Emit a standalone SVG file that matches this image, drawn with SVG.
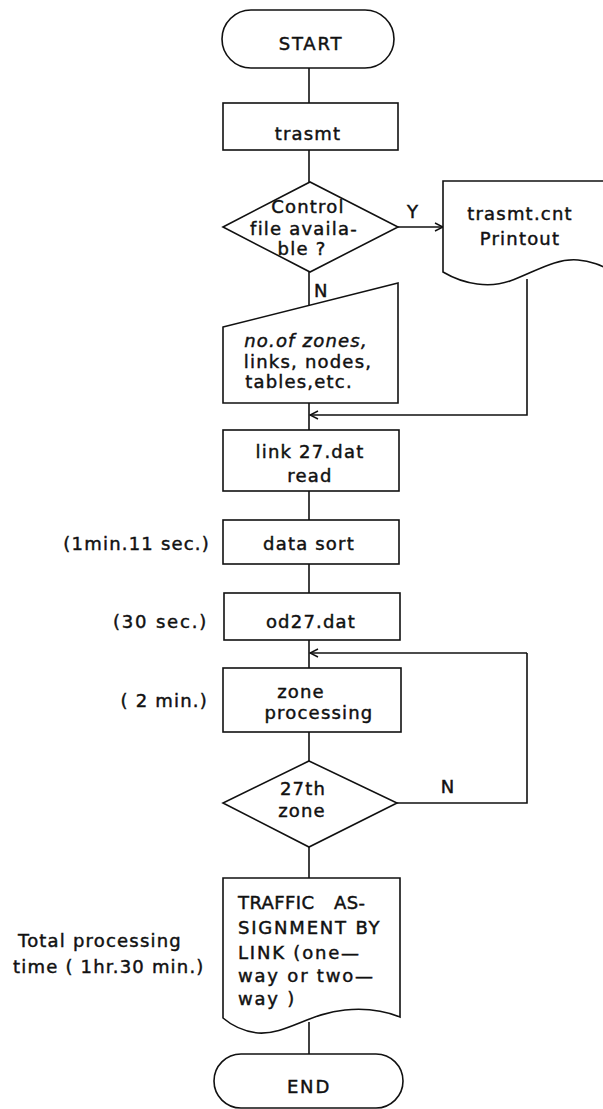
<svg xmlns="http://www.w3.org/2000/svg" width="603" height="1109" viewBox="0 0 603 1109">
  <style>
    .shape { fill: #ffffff; stroke: #111111; stroke-width: 1.6; }
    .line { fill: none; stroke: #111111; stroke-width: 1.6; }
    text { font-family: "DejaVu Sans", "Liberation Sans", sans-serif; font-size: 18px; fill: #111111; stroke: #111111; stroke-width: 0.45; letter-spacing: 1.2px; }
    .c { text-anchor: middle; }
    .r { text-anchor: end; }
    .it { font-style: italic; }
    .wide { letter-spacing: 1.8px; }
    .tight { letter-spacing: 0.4px; }
  </style>
  <defs>
    <marker id="arrow" markerWidth="10" markerHeight="10" refX="9" refY="5" orient="auto" markerUnits="userSpaceOnUse">
      <path d="M1,1 L9,5 L1,9" fill="none" stroke="#111111" stroke-width="1.4"/>
    </marker>
  </defs>
  <rect width="603" height="1109" fill="#ffffff"/>

  <!-- connectors -->
  <g id="connectors">
    <path class="line" d="M309,68 V103"/>
    <path class="line" d="M309,150 V182"/>
    <path class="line" d="M309,272 V305"/>
    <path class="line" d="M398,227 H443" marker-end="url(#arrow)"/>
    <path class="line" d="M309,403 V430"/>
    <path class="line" d="M527,279 V415 H310" marker-end="url(#arrow)"/>
    <path class="line" d="M309,491 V520"/>
    <path class="line" d="M309,564 V593"/>
    <path class="line" d="M309,640 V668"/>
    <path class="line" d="M527,653 H310" marker-end="url(#arrow)"/>
    <path class="line" d="M309,732 V761"/>
    <path class="line" d="M397,803 H527 V653"/>
    <path class="line" d="M309,847 V878"/>
    <path class="line" d="M309,1022 V1054"/>
    <text x="413" y="218" class="c">Y</text>
    <text x="314" y="297">N</text>
    <text x="448" y="793" class="c">N</text>
  </g>

  <!-- terminal: start -->
  <g id="start">
    <rect class="shape" x="222" y="10" width="172" height="58" rx="29"/>
    <text x="311" y="50" class="c wide">START</text>
  </g>

  <!-- process: trasmt -->
  <g id="trasmt">
    <rect class="shape" x="223" y="103" width="175" height="47"/>
    <text x="308" y="140" class="c">trasmt</text>
  </g>

  <!-- decision: control file -->
  <g id="control-file">
    <polygon class="shape" points="223,227 310,182 398,227 310,272"/>
    <text x="308" y="213" class="c">Control</text>
    <text x="304" y="235" class="c">file availa-</text>
    <text x="302" y="255" class="c">ble ?</text>
  </g>

  <!-- document: printout (runs off the right edge) -->
  <g id="printout">
    <path class="shape" d="M625,181 H443 V272 C465,285 490,288 510,281 C535,272 555,258 578,260 C592,261 602,266 625,276"/>
    <text x="520" y="220" class="c">trasmt.cnt</text>
    <text x="520" y="245" class="c">Printout</text>
  </g>

  <!-- manual input: counts -->
  <g id="manual-input">
    <polygon class="shape" points="223,327 398,283 398,403 223,403"/>
    <text x="306" y="347" class="c it">no.of zones,</text>
    <text x="308" y="368" class="c">links, nodes,</text>
    <text x="299" y="388" class="c">tables,etc.</text>
  </g>

  <!-- process: link read -->
  <g id="link-read">
    <rect class="shape" x="223" y="430" width="176" height="61"/>
    <text x="310" y="458" class="c">link 27.dat</text>
    <text x="310" y="482" class="c">read</text>
  </g>

  <!-- process: data sort -->
  <g id="data-sort">
    <rect class="shape" x="223" y="520" width="176" height="44"/>
    <text x="309" y="550" class="c">data sort</text>
    <text x="210" y="550" class="r">(1min.11 sec.)</text>
  </g>

  <!-- process: od27.dat -->
  <g id="od27">
    <rect class="shape" x="224" y="593" width="176" height="47"/>
    <text x="311" y="628" class="c">od27.dat</text>
    <text x="208" y="628" class="r wide">(30 sec.)</text>
  </g>

  <!-- process: zone processing -->
  <g id="zone-processing">
    <rect class="shape" x="223" y="668" width="178" height="64"/>
    <text x="301" y="698" class="c">zone</text>
    <text x="319" y="719" class="c">processing</text>
    <text x="208" y="707" class="r">( 2 min.)</text>
  </g>

  <!-- decision: last zone -->
  <g id="last-zone">
    <polygon class="shape" points="309,761 397,803 309,847 223,803"/>
    <text x="303" y="795" class="c">27th</text>
    <text x="302" y="817" class="c">zone</text>
  </g>

  <!-- document: traffic assignment -->
  <g id="traffic-assignment">
    <path class="shape" d="M223,878 H400 V1017 C385,1011 365,1008 345,1010 C310,1013 285,1035 258,1033 C240,1031 230,1024 223,1018 Z"/>
    <text x="238" y="909" class="tight">TRAFFIC</text>
    <text x="334" y="909" class="tight">AS-</text>
    <text x="238" y="934" class="wide">SIGNMENT BY</text>
    <text x="238" y="959" class="wide">LINK (one—</text>
    <text x="238" y="982" class="wide">way or two—</text>
    <text x="238" y="1005" class="wide">way )</text>
    <text x="18" y="947">Total processing</text>
    <text x="13" y="973">time ( 1hr.30 min.)</text>
  </g>

  <!-- terminal: end -->
  <g id="end">
    <rect class="shape" x="214" y="1054" width="189" height="54" rx="27"/>
    <text x="309" y="1093" class="c wide">END</text>
  </g>
</svg>
